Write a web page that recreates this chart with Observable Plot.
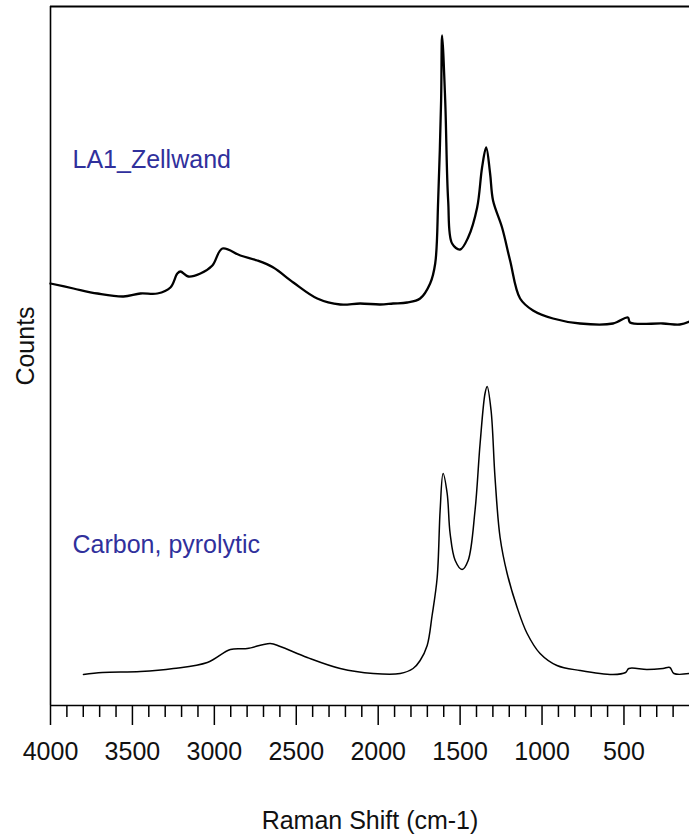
<!DOCTYPE html>
<html>
<head>
<meta charset="utf-8">
<script src="https://cdn.jsdelivr.net/npm/d3@7"></script>
<script src="https://cdn.jsdelivr.net/npm/@observablehq/plot@0.6"></script>
<style>
  html, body { margin: 0; padding: 0; background: #fff; }
</style>
</head>
<body>
<div id="chart"></div>
<script>
// Upper spectrum: LA1_Zellwand (Raman shift cm-1, counts in arbitrary units)
const zellwandShift = [4000, 3860, 3713, 3555, 3451, 3348, 3268, 3226, 3207, 3159, 3085, 3012, 2951, 2841, 2738, 2640, 2518, 2372, 2232, 2110, 1988, 1909, 1823, 1744, 1683, 1652, 1634, 1616, 1610, 1591, 1573, 1549, 1500, 1451, 1396, 1366, 1341, 1317, 1299, 1244, 1195, 1134, 1055, 933, 768, 567, 476, 463, 262, 159, 100];
const zellwandCounts = [422, 417, 412, 409, 412, 412, 418, 432, 434, 429, 432, 440, 457, 450, 445, 438, 423, 407, 401, 402, 401, 402, 403, 407, 422, 442, 505, 605, 670, 605, 505, 462, 456, 468, 498, 538, 558, 532, 505, 478, 445, 407, 395, 387, 382, 382, 388, 383, 382, 381, 384];

// Lower spectrum: Carbon, pyrolytic
const carbonShift = [3799, 3683, 3451, 3250, 3043, 2902, 2799, 2659, 2598, 2433, 2232, 2030, 1866, 1787, 1744, 1701, 1671, 1640, 1622, 1604, 1579, 1561, 1530, 1488, 1451, 1409, 1378, 1348, 1335, 1311, 1287, 1256, 1213, 1152, 1091, 1012, 909, 768, 567, 490, 470, 360, 262, 220, 195, 100];
const carbonCounts = [31, 33, 34, 37, 43, 56, 57, 62, 59, 48, 37, 32, 32, 37, 45, 60, 90, 128, 195, 232, 212, 172, 145, 136, 145, 195, 262, 312, 319, 295, 228, 168, 132, 98, 72, 52, 40, 35, 31, 33, 37, 36, 37, 38, 32, 32];

const majorTicks = [4000, 3500, 3000, 2500, 2000, 1500, 1000, 500];
const minorTicks = d3.range(200, 4000, 100).filter(v => v % 500 !== 0);
const seriesLabels = ["LA1_Zellwand", "Carbon, pyrolytic"];
const xLabel = "Raman Shift (cm-1)";
const yLabel = "Counts";

const zellwand = zellwandShift.map((x, i) => ({x, y: zellwandCounts[i]}));
const carbon = carbonShift.map((x, i) => ({x, y: carbonCounts[i]}));

const font = "'Liberation Sans', Arial, sans-serif";

const chart = Plot.plot({
  width: 689,
  height: 836,
  marginLeft: 50,
  marginRight: 0,
  marginTop: 6,
  marginBottom: 131,
  style: {fontFamily: font, fontSize: "25px", background: "#fff", color: "#000"},
  x: {domain: [4000, 100], axis: null},
  y: {domain: [0, 699], axis: null},
  marks: [
    Plot.ruleX([4000], {stroke: "#000", strokeWidth: 1.6}),
    Plot.ruleY([0], {stroke: "#000", strokeWidth: 1.6}),
    Plot.ruleY([699], {stroke: "#000", strokeWidth: 1.8}),
    Plot.axisX({ticks: minorTicks, tickSize: 12, tickFormat: () => "", label: null, stroke: "#000", strokeWidth: 1.5}),
    Plot.axisX({ticks: majorTicks, tickSize: 20, tickPadding: 17, tickFormat: d => String(d), label: null, stroke: "#000", strokeWidth: 1.5, fill: "#111", fontSize: 25}),
    Plot.line(zellwand, {x: "x", y: "y", stroke: "#000", strokeWidth: 2.3, curve: "catmull-rom"}),
    Plot.line(carbon, {x: "x", y: "y", stroke: "#000", strokeWidth: 1.5, curve: "catmull-rom"}),
    Plot.text([seriesLabels[0]], {frameAnchor: "top-left", dx: 22, dy: 161, lineAnchor: "bottom", textAnchor: "start", fill: "#30309c", fontSize: 25}),
    Plot.text([seriesLabels[1]], {frameAnchor: "top-left", dx: 22, dy: 546, lineAnchor: "bottom", textAnchor: "start", fill: "#30309c", fontSize: 25}),
    Plot.text([xLabel], {frameAnchor: "bottom", dy: 123, lineAnchor: "bottom", textAnchor: "middle", fill: "#111", fontSize: 25}),
    Plot.text([yLabel], {frameAnchor: "left", dx: -25, dy: -10, rotate: -90, lineAnchor: "middle", textAnchor: "middle", fill: "#111", fontSize: 25})
  ]
});
document.getElementById("chart").appendChild(chart);
</script>
</body>
</html>
